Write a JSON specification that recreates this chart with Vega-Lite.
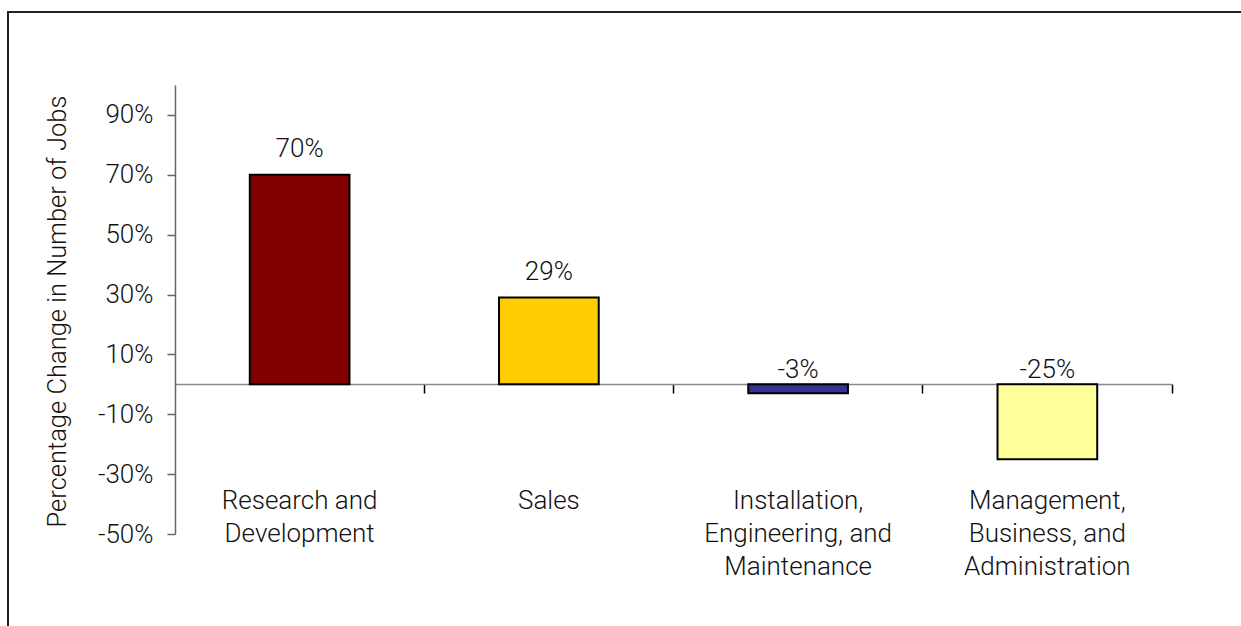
{
  "$schema": "https://vega.github.io/schema/vega-lite/v6.json",
  "autosize": "none",
  "width": 1238,
  "height": 619,
  "padding": {"left": 8, "top": 12, "right": -5, "bottom": -5},
  "background": "white",
  "config": {
    "view": {"stroke": "#222222", "strokeWidth": 2},
    "font": "Roboto",
    "text": {"font": "Roboto", "fontSize": 26, "fontWeight": 300, "color": "#111111"},
    "axis": {"labelFont": "Roboto", "titleFont": "Roboto", "labelFontWeight": 300, "titleFontWeight": 300, "labelColor": "#111111", "titleColor": "#111111", "grid": false}
  },
  "data": {
    "values": [
      {"category": "Research and Development", "value": 70},
      {"category": "Sales", "value": 29},
      {"category": "Installation, Engineering, and Maintenance", "value": -3},
      {"category": "Management, Business, and Administration", "value": -25}
    ]
  },
  "resolve": {"axis": {"x": "independent", "y": "independent"}},
  "layer": [
    {
      "mark": {"type": "bar", "stroke": "#000000", "strokeWidth": 2},
      "encoding": {
        "x": {
          "field": "category", "type": "nominal", "sort": null,
          "scale": {"range": [167, 1164], "paddingInner": 0.6, "paddingOuter": 0.3},
          "axis": {
            "orient": "bottom", "offset": -247, "title": null, "labels": false,
            "domain": true, "domainColor": "#888888", "domainWidth": 1.5,
            "ticks": true, "tickColor": "#000000", "tickSize": 9, "tickWidth": 1.5,
            "bandPosition": 1.75
          }
        },
        "y": {
          "field": "value", "type": "quantitative",
          "scale": {"domain": [-50, 100], "range": [522, 73], "nice": false, "zero": false},
          "axis": {
            "orient": "left", "offset": -167,
            "values": [-50, -30, -10, 10, 30, 50, 70, 90],
            "labelExpr": "datum.value + '%'",
            "labelFontSize": 26, "labelPadding": 14, "labelBaseline": "middle",
            "domainColor": "#666666", "domainWidth": 1.5,
            "tickColor": "#666666", "tickSize": 8, "tickWidth": 1.5,
            "title": "Percentage Change in Number of Jobs",
            "titleFontSize": 25.5, "titleX": -118, "titleY": 299,
            "titleAlign": "center", "titleBaseline": "middle", "titleAngle": -90
          }
        },
        "color": {
          "field": "category", "type": "nominal", "sort": null,
          "scale": {
            "domain": ["Research and Development", "Sales", "Installation, Engineering, and Maintenance", "Management, Business, and Administration"],
            "range": ["#800000", "#FFCC00", "#333399", "#FFFF99"]
          },
          "legend": null
        }
      }
    },
    {
      "transform": [{"filter": "datum.value >= 0"}],
      "mark": {"type": "text", "baseline": "alphabetic", "align": "center", "dy": -18, "text": {"expr": "datum.value + '%'"}},
      "encoding": {
        "x": {
          "field": "category", "type": "nominal", "sort": null,
          "axis": {
            "orient": "bottom", "offset": -247, "title": null,
            "domain": false, "ticks": false, "tickSize": 0,
            "labelAngle": 0, "labelFontSize": 26, "labelLineHeight": 33,
            "labelBaseline": "alphabetic", "labelPadding": 124, "labelLimit": 0,
            "labelExpr": "datum.label == 'Research and Development' ? ['Research and', 'Development'] : datum.label == 'Installation, Engineering, and Maintenance' ? ['Installation,', 'Engineering, and', 'Maintenance'] : datum.label == 'Management, Business, and Administration' ? ['Management,', 'Business, and', 'Administration'] : datum.label"
          }
        },
        "y": {"field": "value", "type": "quantitative", "axis": null}
      }
    },
    {
      "transform": [{"filter": "datum.value < 0"}],
      "mark": {"type": "text", "baseline": "alphabetic", "align": "center", "dy": -6, "text": {"expr": "datum.value + '%'"}},
      "encoding": {
        "x": {"field": "category", "type": "nominal", "sort": null, "axis": null},
        "y": {"datum": 0, "type": "quantitative", "axis": null}
      }
    }
  ]
}
